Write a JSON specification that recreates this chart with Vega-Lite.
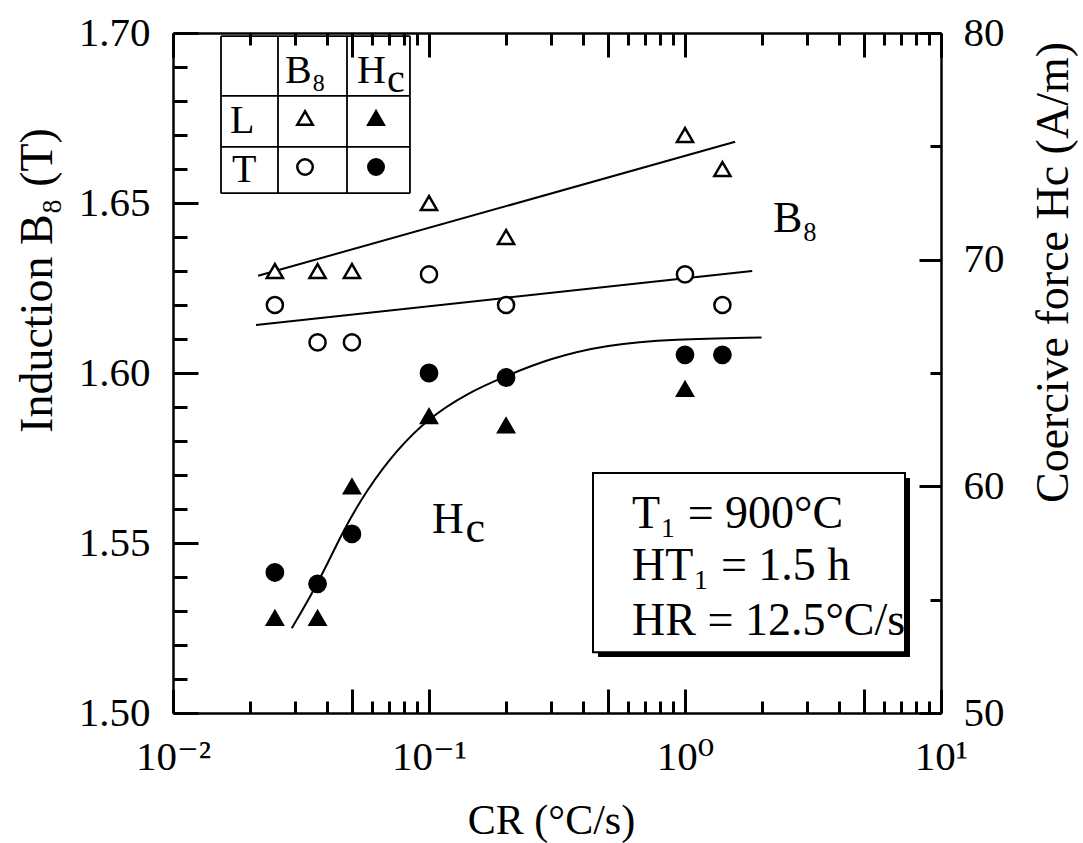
{
  "$schema": "https://vega.github.io/schema/vega-lite/v6.json",
  "width": 768,
  "height": 680,
  "autosize": {"type": "none"},
  "padding": {"left": 173, "top": 33, "right": 142, "bottom": 130},
  "background": "white",
  "config": {
    "font": "'Liberation Serif', 'Times New Roman', 'DejaVu Serif', serif",
    "view": {"stroke": null},
    "axis": {
      "domainColor": "black", "tickColor": "black", "labelColor": "black", "titleColor": "black",
      "labelFont": "'Liberation Serif', 'Times New Roman', 'DejaVu Serif', serif",
      "titleFont": "'Liberation Serif', 'Times New Roman', 'DejaVu Serif', serif",
      "grid": false, "labelOverlap": false, "labelFlush": false, "labelBound": false,
      "tickWidth": 3, "domainWidth": 2.5, "titleFontWeight": "normal",
      "labelFontSize": 41, "titleFontSize": 44
    }
  },
  "resolve": {"scale": {"y": "independent"}, "axis": {"x": "independent", "y": "independent"}},
  "layer": [
    {
      "data": {"values": [{"x": 0.4572, "x2": 7.566, "y": 1.56912, "y2": 1.51647}]},
      "mark": {"type": "rect", "fill": "black"},
      "encoding": {
        "x": {"field": "x", "type": "quantitative", "scale": {"type": "log", "domain": [0.01, 10], "nice": false},
          "axis": {"orient": "bottom", "values": [0.01, 0.05, 0.1, 0.5, 1, 5, 10], "tickSize": -24, "labelPadding": 48, "labelDx": 10,
            "labelExpr": "datum.value == 0.01 ? '10⁻²' : datum.value == 0.1 ? '10⁻¹' : datum.value == 1 ? '10⁰' : datum.value == 10 ? '10¹' : ''",
            "title": "CR (°C/s)", "titleX": 378, "titleY": 120, "titleBaseline": "alphabetic", "titleFontSize": 42}},
        "x2": {"field": "x2"},
        "y": {"field": "y", "type": "quantitative", "scale": {"domain": [1.5, 1.7], "nice": false, "zero": false},
          "axis": {"orient": "left", "values": [1.5, 1.55, 1.6, 1.65, 1.7], "format": ".2f", "tickSize": -25, "labelPadding": 48,
            "title": "Induction B₈ (T)", "titleAngle": 270, "titleX": -136, "titleY": 247, "titleBaseline": "middle", "titleAlign": "center", "titleFontSize": 46}},
        "y2": {"field": "y2"}
      }
    },
    {
      "data": {"values": [{"x": 0.4371, "x2": 7.235, "y": 1.5706, "y2": 1.5179}]},
      "mark": {"type": "rect", "fill": "white", "stroke": "black", "strokeWidth": 2},
      "encoding": {
        "x": {"field": "x", "type": "quantitative", "scale": {"type": "log", "domain": [0.01, 10], "nice": false},
          "axis": {"orient": "bottom", "values": [0.02, 0.03, 0.04, 0.06, 0.07, 0.08, 0.09, 0.2, 0.3, 0.4, 0.6, 0.7, 0.8, 0.9, 2, 3, 4, 6, 7, 8, 9],
            "tickSize": -12, "labels": false, "domain": false, "title": null}},
        "x2": {"field": "x2"},
        "y": {"field": "y", "type": "quantitative", "scale": {"domain": [1.5, 1.7], "nice": false, "zero": false},
          "axis": {"orient": "left", "values": [1.51, 1.52, 1.53, 1.54, 1.56, 1.57, 1.58, 1.59, 1.61, 1.62, 1.63, 1.64, 1.66, 1.67, 1.68, 1.69],
            "tickSize": -14, "labels": false, "domain": false, "title": null}},
        "y2": {"field": "y2"}
      }
    },
    {
      "data": {"values": [
        {"x": 0.0291, "hc": 53.74}, {"x": 0.0369, "hc": 55.72}, {"x": 0.0463, "hc": 58.07}, {"x": 0.0571, "hc": 59.84},
        {"x": 0.0747, "hc": 61.6}, {"x": 0.0994, "hc": 63.0}, {"x": 0.1404, "hc": 64.1}, {"x": 0.1968, "hc": 64.84},
        {"x": 0.297, "hc": 65.65}, {"x": 0.494, "hc": 66.25}, {"x": 0.9, "hc": 66.5}, {"x": 1.99, "hc": 66.57}
      ]},
      "mark": {"type": "line", "color": "black", "strokeWidth": 2, "interpolate": "basis"},
      "encoding": {
        "x": {"field": "x", "type": "quantitative", "scale": {"type": "log", "domain": [0.01, 10], "nice": false},
          "axis": {"orient": "top", "values": [0.01, 0.05, 0.1, 0.5, 1, 5, 10], "tickSize": -24, "labels": false, "title": null}},
        "y": {"field": "hc", "type": "quantitative", "scale": {"domain": [50, 80], "nice": false, "zero": false},
          "axis": {"orient": "right", "values": [50, 60, 70, 80], "tickSize": -22, "labelPadding": 44,
            "title": "Coercive force Hc (A/m)", "titleAngle": 270, "titleX": 112, "titleY": 239, "titleBaseline": "middle", "titleAlign": "center", "titleFontSize": 46}}
      }
    },
    {
      "data": {"values": [
        {"x": 0.025, "hc": 54.2, "dir": "L"}, {"x": 0.0367, "hc": 54.2, "dir": "L"}, {"x": 0.05, "hc": 60.0, "dir": "L"},
        {"x": 0.1, "hc": 63.1, "dir": "L"}, {"x": 0.2, "hc": 62.7, "dir": "L"}, {"x": 1.0, "hc": 64.3, "dir": "L"},
        {"x": 0.025, "hc": 56.2, "dir": "T"}, {"x": 0.0367, "hc": 55.7, "dir": "T"}, {"x": 0.05, "hc": 57.9, "dir": "T"},
        {"x": 0.1, "hc": 65.0, "dir": "T"}, {"x": 0.2, "hc": 64.8, "dir": "T"}, {"x": 1.0, "hc": 65.8, "dir": "T"},
        {"x": 1.4, "hc": 65.8, "dir": "T"}
      ]},
      "mark": {"type": "point", "filled": true, "fill": "black", "stroke": "black", "strokeWidth": 1.5, "opacity": 1, "size": 300},
      "encoding": {
        "x": {"field": "x", "type": "quantitative", "scale": {"type": "log", "domain": [0.01, 10], "nice": false},
          "axis": {"orient": "top", "values": [0.02, 0.03, 0.04, 0.06, 0.07, 0.08, 0.09, 0.2, 0.3, 0.4, 0.6, 0.7, 0.8, 0.9, 2, 3, 4, 6, 7, 8, 9],
            "tickSize": -12, "labels": false, "domain": false, "title": null}},
        "y": {"field": "hc", "type": "quantitative", "scale": {"domain": [50, 80], "nice": false, "zero": false},
          "axis": {"orient": "right", "values": [55, 65, 75], "tickSize": -11, "labels": false, "domain": false, "title": null}},
        "shape": {"field": "dir", "type": "nominal", "scale": {"domain": ["L", "T"], "range": ["triangle-up", "circle"]}, "legend": null}
      }
    },
    {
      "data": {"values": [
        {"x": 0.0215, "y": 1.6286, "series": "L"}, {"x": 1.57, "y": 1.668, "series": "L"},
        {"x": 0.0211, "y": 1.6141, "series": "T"}, {"x": 1.83, "y": 1.630, "series": "T"}
      ]},
      "mark": {"type": "line", "color": "black", "strokeWidth": 2},
      "encoding": {
        "x": {"field": "x", "type": "quantitative", "scale": {"type": "log", "domain": [0.01, 10], "nice": false}, "axis": null},
        "y": {"field": "y", "type": "quantitative", "scale": {"domain": [1.5, 1.7], "nice": false, "zero": false}, "axis": null},
        "detail": {"field": "series", "type": "nominal"}
      }
    },
    {
      "data": {"values": [
        {"x": 0.025, "b8": 1.630, "dir": "L"}, {"x": 0.0367, "b8": 1.630, "dir": "L"}, {"x": 0.05, "b8": 1.630, "dir": "L"},
        {"x": 0.1, "b8": 1.650, "dir": "L"}, {"x": 0.2, "b8": 1.640, "dir": "L"}, {"x": 1.0, "b8": 1.670, "dir": "L"},
        {"x": 1.4, "b8": 1.660, "dir": "L"},
        {"x": 0.025, "b8": 1.620, "dir": "T"}, {"x": 0.0367, "b8": 1.609, "dir": "T"}, {"x": 0.05, "b8": 1.609, "dir": "T"},
        {"x": 0.1, "b8": 1.629, "dir": "T"}, {"x": 0.2, "b8": 1.620, "dir": "T"}, {"x": 1.0, "b8": 1.629, "dir": "T"},
        {"x": 1.4, "b8": 1.620, "dir": "T"}
      ]},
      "mark": {"type": "point", "filled": false, "fill": "white", "stroke": "black", "strokeWidth": 2.5, "opacity": 1, "size": 260},
      "encoding": {
        "x": {"field": "x", "type": "quantitative", "scale": {"type": "log", "domain": [0.01, 10], "nice": false}, "axis": null},
        "y": {"field": "b8", "type": "quantitative", "scale": {"domain": [1.5, 1.7], "nice": false, "zero": false}, "axis": null},
        "shape": {"field": "dir", "type": "nominal", "scale": {"domain": ["L", "T"], "range": ["triangle-up", "circle"]}, "legend": null}
      }
    },
    {
      "data": {"values": [
        {"x": 0.0154, "x2": 0.0154, "y": 1.6991, "y2": 1.6529},
        {"x": 0.02571, "x2": 0.02571, "y": 1.6991, "y2": 1.6529},
        {"x": 0.04782, "x2": 0.04782, "y": 1.6991, "y2": 1.6529},
        {"x": 0.08426, "x2": 0.08426, "y": 1.6991, "y2": 1.6529},
        {"x": 0.0154, "x2": 0.08426, "y": 1.6991, "y2": 1.6991},
        {"x": 0.0154, "x2": 0.08426, "y": 1.6815, "y2": 1.6815},
        {"x": 0.0154, "x2": 0.08426, "y": 1.6665, "y2": 1.6665},
        {"x": 0.0154, "x2": 0.08426, "y": 1.6529, "y2": 1.6529}
      ]},
      "mark": {"type": "rule", "color": "black", "strokeWidth": 1.8},
      "encoding": {
        "x": {"field": "x", "type": "quantitative", "scale": {"type": "log", "domain": [0.01, 10], "nice": false}, "axis": null},
        "x2": {"field": "x2"},
        "y": {"field": "y", "type": "quantitative", "scale": {"domain": [1.5, 1.7], "nice": false, "zero": false}, "axis": null},
        "y2": {"field": "y2"}
      }
    },
    {
      "data": {"values": [
        {"x": 0.03279, "y": 1.675, "dir": "L", "prop": "B8"},
        {"x": 0.06209, "y": 1.675, "dir": "L", "prop": "Hc"},
        {"x": 0.03279, "y": 1.66059, "dir": "T", "prop": "B8"},
        {"x": 0.06209, "y": 1.66059, "dir": "T", "prop": "Hc"}
      ]},
      "mark": {"type": "point", "stroke": "black", "strokeWidth": 2.5, "opacity": 1, "size": 240},
      "encoding": {
        "x": {"field": "x", "type": "quantitative", "scale": {"type": "log", "domain": [0.01, 10], "nice": false}, "axis": null},
        "y": {"field": "y", "type": "quantitative", "scale": {"domain": [1.5, 1.7], "nice": false, "zero": false}, "axis": null},
        "shape": {"field": "dir", "type": "nominal", "scale": {"domain": ["L", "T"], "range": ["triangle-up", "circle"]}, "legend": null},
        "fill": {"field": "prop", "type": "nominal", "scale": {"domain": ["B8", "Hc"], "range": ["white", "black"]}, "legend": null}
      }
    },
    {
      "data": {"values": [
        {"x": 2.207, "y": 1.6415, "label": "B₈"},
        {"x": 0.10274, "y": 1.55294, "label": "H"},
        {"x": 0.13876, "y": 1.55029, "label": "c"}
      ]},
      "mark": {"type": "text", "fontSize": 44, "align": "left", "baseline": "alphabetic", "color": "black"},
      "encoding": {
        "x": {"field": "x", "type": "quantitative", "scale": {"type": "log", "domain": [0.01, 10], "nice": false}, "axis": null},
        "y": {"field": "y", "type": "quantitative", "scale": {"domain": [1.5, 1.7], "nice": false, "zero": false}, "axis": null},
        "text": {"field": "label"}
      }
    },
    {
      "data": {"values": [
        {"x": 0.02738, "y": 1.68529, "label": "B₈"},
        {"x": 0.05234, "y": 1.68529, "label": "H"},
        {"x": 0.06850, "y": 1.68265, "label": "c"},
        {"x": 0.0167, "y": 1.67059, "label": "L"},
        {"x": 0.0170, "y": 1.65618, "label": "T"}
      ]},
      "mark": {"type": "text", "fontSize": 40, "align": "left", "baseline": "alphabetic", "color": "black"},
      "encoding": {
        "x": {"field": "x", "type": "quantitative", "scale": {"type": "log", "domain": [0.01, 10], "nice": false}, "axis": null},
        "y": {"field": "y", "type": "quantitative", "scale": {"domain": [1.5, 1.7], "nice": false, "zero": false}, "axis": null},
        "text": {"field": "label"}
      }
    },
    {
      "data": {"values": [
        {"x": 0.621, "y": 1.5544, "label": "T₁ = 900°C"},
        {"x": 0.621, "y": 1.5391, "label": "HT₁ = 1.5 h"},
        {"x": 0.621, "y": 1.5229, "label": "HR = 12.5°C/s"}
      ]},
      "mark": {"type": "text", "fontSize": 46, "align": "left", "baseline": "alphabetic", "color": "black"},
      "encoding": {
        "x": {"field": "x", "type": "quantitative", "scale": {"type": "log", "domain": [0.01, 10], "nice": false}, "axis": null},
        "y": {"field": "y", "type": "quantitative", "scale": {"domain": [1.5, 1.7], "nice": false, "zero": false}, "axis": null},
        "text": {"field": "label"}
      }
    }
  ]
}
